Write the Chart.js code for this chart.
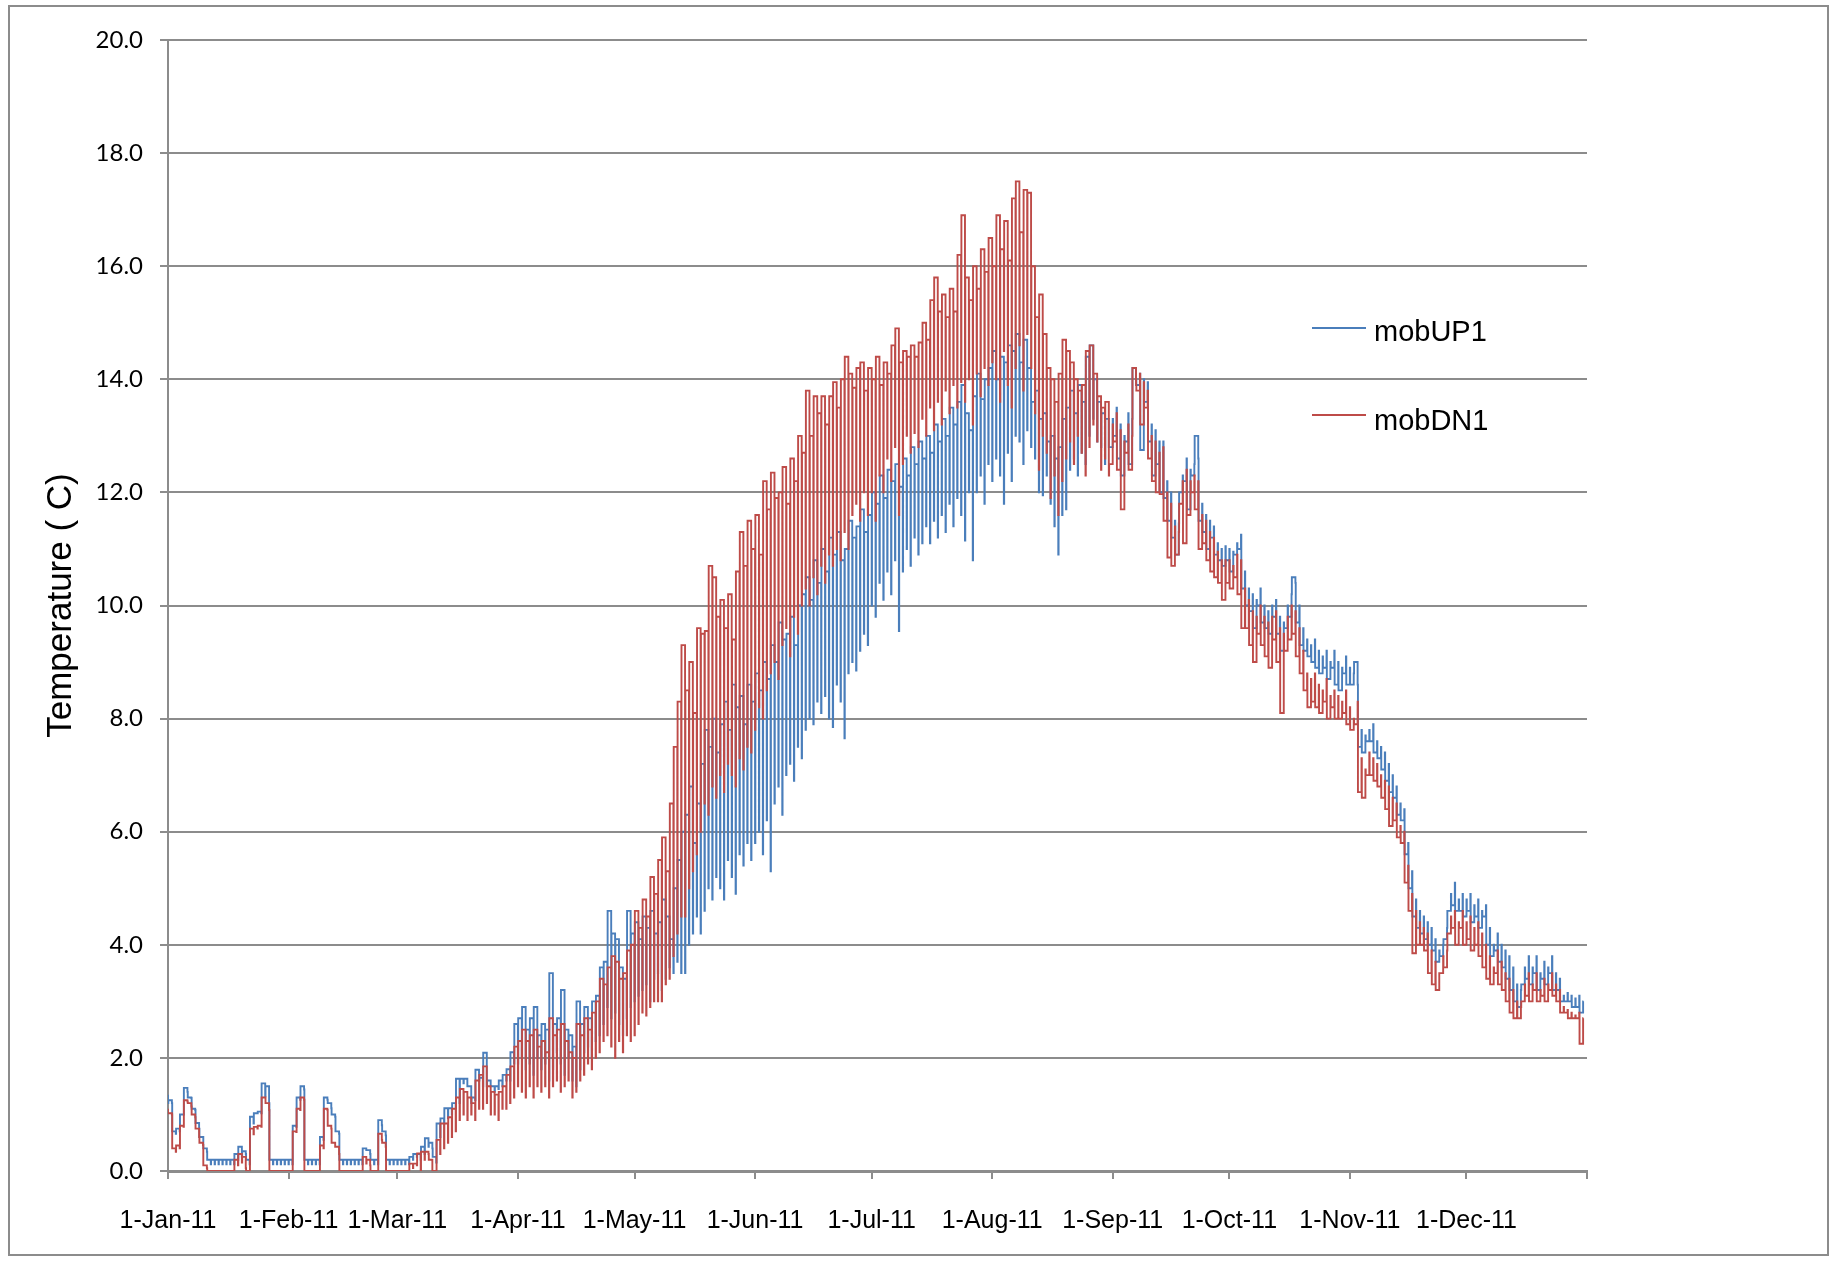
<!DOCTYPE html>
<html>
<head>
<meta charset="utf-8">
<script src="https://cdn.jsdelivr.net/npm/chart.js@4.4.1/dist/chart.umd.min.js"></script>
<style>
  body { margin: 0; background: #fff; }
  #wrap { position: relative; width: 1843px; height: 1262px; background: #fff; }
  #frame { position: absolute; left: 8px; top: 5px; width: 1821px; height: 1251px; border: 2px solid #8c8c8c; box-sizing: border-box; pointer-events: none; }
  .lgline { position: absolute; left: 1312px; width: 54px; height: 2px; }
  .lgtext { position: absolute; left: 1374px; font: 29px "Liberation Sans", Arial, sans-serif; line-height: 29px; color: #000; white-space: nowrap; }
</style>
</head>
<body>
<div id="wrap">
  <canvas id="mycanvas" width="1843" height="1262"></canvas>
  <div id="frame"></div>
  <div class="lgline" style="top:327px;background:#4a7ebb"></div>
  <div class="lgtext" style="top:317px">mobUP1</div>
  <div class="lgline" style="top:414px;background:#be4b48"></div>
  <div class="lgtext" style="top:406px">mobDN1</div>
</div>
<script>
// x axis: day of year 2011, ticks on the first of each month
var monthTicks = [0, 31, 59, 90, 120, 151, 181, 212, 243, 273, 304, 334, 365];
var monthLabels = ["1-Jan-11", "1-Feb-11", "1-Mar-11", "1-Apr-11", "1-May-11", "1-Jun-11",
                   "1-Jul-11", "1-Aug-11", "1-Sep-11", "1-Oct-11", "1-Nov-11", "1-Dec-11", ""];

// each day: a "base" level held most of the day and a short "peak" excursion
// mobUP1 (blue)
var upBase = [
  [1.2,1.2,0.66,0.7,1.0,1.4,1.29,1.08,0.75,0.6,0.34,0.12,0.12,0.12,0.12,0.12,0.12,0.12,0.2,0.25,0.3,0.12,0.84,1.02,1.02,1.32,1.2,0.12,0.12,0.12,0.12],
  [0.12,0.12,0.78,1.26,1.44,0.12,0.12,0.12,0.12,0.55,1.26,1.11,0.96,0.66,0.12,0.12,0.12,0.12,0.12,0.12,0.37,0.3,0.12,0.12,0.81,0.63,0.12,0.12],
  [0.12,0.12,0.12,0.12,0.2,0.25,0.2,0.3,0.43,0.4,0.15,0.6,0.84,0.93,1.0,1.11,1.2,1.55,1.5,1.2,1.25,1.6,1.5,1.5,1.5,1.4,1.45,1.5,1.6,1.6,1.9],
  [1.9,2.0,1.8,1.9,1.7,2.0,1.8,1.9,1.6,1.8,2.1,1.9,1.7,2.0,1.6,1.5,1.8,2.1,2.2,2.0,2.3,2.4,2.6,2.9,2.7,2.8,2.6,2.4,2.7,2.9],
  [3.0,3.1,3.2,3.3,3.0,3.4,3.5,3.2,3.4,3.6,3.5,3.7,3.5,3.5,4.0,4.2,4.5,4.2,4.6,5.0,4.8,5.2,5.0,4.8,5.5,5.2,4.9,5.6,5.4,5.8,5.5],
  [5.8,6.0,5.6,6.2,5.3,6.5,6.8,6.3,7.0,7.2,6.9,7.5,7.3,7.8,8.0,7.9,8.3,8.1,8.4,8.0,7.85,8.6,8.3,7.65,8.8,9.0,8.85,9.2,9.5,9.3],
  [10.0,9.8,10.4,10.1,10.6,10.2,10.8,9.55,10.6,11.0,10.7,11.2,10.9,11.1,11.4,11.1,11.5,11.2,11.6,11.3,11.8,11.4,11.9,11.6,11.15,12.0,10.8,12.0,12.3,11.8,12.5],
  [12.2,12.6,12.3,11.8,12.7,12.2,13.0,12.9,12.5,13.1,12.8,12.6,12.0,11.95,12.3,11.8,11.4,10.9,11.6,11.7,12.4,12.6,12.3,12.7,12.5,13.0,13.3,12.9,12.8,12.5,12.8],
  [13.3,13.5,13.2,13.0,13.4,13.3,14.0,14.1,14.0,13.95,13.2,13.1,12.9,12.9,12.2,12.0,11.5,11.45,12.3,12.6,12.4,12.5,12.6,11.8,11.6,11.5,11.4,11.1,11.0,11.05],
  [11.0,10.95,11.1,11.25,10.6,10.3,10.2,10.1,10.3,10.0,9.9,10.0,10.1,9.8,9.7,10.0,10.2,10.4,10.0,9.6,9.4,9.3,9.4,9.2,9.1,9.2,9.0,9.2,9.0,8.9,9.1],
  [8.9,8.8,8.6,7.8,7.7,7.8,7.9,7.6,7.5,7.4,7.2,7.0,6.8,6.5,6.4,5.8,5.3,4.8,4.6,4.5,4.4,4.3,4.1,3.9,4.0,4.3,4.9,5.1,4.8,4.9],
  [4.8,4.9,4.7,4.8,4.6,4.7,4.3,4.0,4.2,4.0,3.9,3.8,3.6,3.3,3.2,3.6,3.8,3.6,3.8,3.5,3.7,3.6,3.8,3.5,3.4,3.1,3.15,3.1,3.05,3.1,3.0]
].flat();
var upPeak = [
  [1.35,1.25,0.7,0.75,1.0,1.47,1.3,1.1,0.85,0.6,0.4,0.2,0.2,0.2,0.2,0.2,0.2,0.2,0.3,0.43,0.35,0.2,0.96,1.02,1.05,1.55,1.5,0.2,0.2,0.2,0.2],
  [0.2,0.2,0.8,1.3,1.5,0.2,0.2,0.2,0.2,0.6,1.3,1.2,1.0,0.7,0.2,0.2,0.2,0.2,0.2,0.2,0.4,0.37,0.2,0.2,0.9,0.7,0.2,0.2],
  [0.2,0.2,0.2,0.2,0.25,0.3,0.3,0.43,0.58,0.5,0.25,0.84,0.93,1.11,1.11,1.2,1.63,1.63,1.63,1.5,1.3,1.79,1.65,2.09,1.6,1.5,1.5,1.6,1.7,1.8,2.1],
  [2.6,2.7,2.9,2.5,2.7,2.9,2.4,2.6,2.5,3.5,2.6,2.7,3.2,2.5,2.4,2.2,3.0,2.6,2.9,2.7,3.0,3.1,3.6,3.7,4.6,4.2,4.1,3.6,3.4,4.6],
  [4.2,4.4,4.1,4.5,4.3,4.6,4.2,4.4,4.8,4.5,4.1,5.0,5.5,6.0,6.3,6.8,5.8,6.5,7.2,7.8,7.5,8.0,7.4,7.9,8.3,7.8,8.6,8.2,8.4,7.9,8.6],
  [8.3,8.8,8.5,9.0,8.7,9.3,9.0,9.7,9.4,9.5,9.8,9.3,10.0,10.2,10.5,10.1,10.8,10.4,11.0,10.6,11.2,10.9,11.3,10.8,11.0,11.5,11.2,11.4,11.7,11.3],
  [11.6,12.0,11.8,12.3,11.9,12.4,12.2,12.5,12.1,12.6,12.3,12.8,12.5,12.9,12.6,13.0,12.7,13.2,12.9,13.3,13.0,13.5,13.2,13.6,13.9,13.4,13.1,13.7,14.1,13.65,14.0],
  [14.2,14.5,14.0,14.4,14.3,14.6,14.5,14.8,14.3,14.7,14.2,13.6,13.8,13.3,13.4,12.9,13.0,12.6,12.8,13.3,13.5,13.8,13.4,13.9,13.6,14.4,14.6,14.0,13.6,13.4,13.3],
  [12.8,13.0,12.6,12.3,12.9,12.5,14.2,13.9,12.75,13.6,12.9,12.3,12.5,12.0,11.9,11.5,11.2,10.9,12.0,12.2,11.7,12.3,13.0,11.5,11.3,11.0,11.2,10.9,10.8,10.7],
  [10.8,10.6,10.9,11.0,10.3,10.0,9.9,9.6,10.0,9.7,9.6,9.5,9.8,9.5,9.2,9.6,9.8,10.5,9.7,9.3,9.2,9.1,9.0,8.9,8.8,8.9,8.7,8.9,8.6,8.5,8.8],
  [8.6,8.6,9.0,7.5,7.4,7.6,7.6,7.4,7.3,7.1,6.9,6.7,6.6,6.3,6.2,5.6,5.0,4.5,4.3,4.2,4.1,4.0,3.9,3.7,3.8,4.1,4.6,4.7,4.6,4.6],
  [4.5,4.6,4.4,4.5,4.3,4.5,4.0,3.8,3.9,3.7,3.6,3.4,3.2,3.0,2.9,3.3,3.4,3.3,3.5,3.2,3.4,3.3,3.5,3.2,3.2,3.0,3.0,3.0,2.9,2.9,2.8]
].flat();

// mobDN1 (red)
var dnBase = [
  [1.02,1.0,0.34,0.4,0.78,1.23,1.14,0.95,0.6,0.46,0.05,0,0,0,0,0,0,0,0.1,0.15,0.05,0,0.65,0.75,0.78,1.3,1.08,0,0,0,0],
  [0,0,0.69,1.08,1.26,0,0,0,0,0.4,1.08,0.75,0.43,0.3,0,0,0,0,0,0,0.13,0.1,0,0,0.55,0.43,0,0],
  [0,0,0,0,0.05,0.1,0,0.2,0.3,0,0,0.3,0.4,0.5,0.6,0.7,0.9,1.0,0.9,1.0,0.9,1.1,1.1,1.2,1.0,1.0,0.9,1.1,1.1,1.2,1.3],
  [1.5,1.4,1.3,1.5,1.3,1.5,1.4,1.5,1.3,1.5,1.6,1.4,1.5,1.6,1.3,1.4,1.6,1.7,1.9,1.8,2.0,2.1,2.3,2.4,2.2,2.0,2.3,2.1,2.4,2.3],
  [2.4,2.6,2.8,2.75,2.9,3.0,3.0,3.0,3.3,3.4,3.8,4.2,4.5,4.5,5.0,5.3,5.6,6.0,6.5,6.3,6.8,6.6,7.0,6.7,7.2,7.0,6.8,7.3,7.1,7.5,7.4],
  [7.8,8.2,8.0,8.5,8.8,9.0,8.7,9.3,9.6,9.1,9.8,9.5,10.0,10.3,10.0,10.5,10.2,10.7,10.4,10.9,10.7,11.0,10.8,11.3,11.0,11.6,11.8,11.5,12.0,11.6],
  [12.0,11.5,12.3,12.0,12.6,12.2,12.8,11.6,12.5,13.0,12.7,13.05,12.8,13.3,13.0,13.5,13.1,13.6,13.2,13.8,13.4,13.9,13.5,13.95,13.6,14.0,13.2,14.1,13.7,14.2,13.9],
  [14.3,14.0,13.6,14.5,13.9,13.5,14.2,14.6,13.8,14.8,14.2,13.4,12.4,13.0,12.7,11.9,12.3,11.6,12.2,12.6,12.9,12.5,13.0,12.7,12.3,12.8,13.2,12.9,12.4,12.6,12.3],
  [13.2,13.4,13.1,12.9,13.2,13.0,13.9,14.1,13.95,13.8,13.0,12.9,12.7,12.8,12.0,11.8,11.4,11.3,12.2,12.4,12.2,12.3,12.2,11.6,11.5,11.3,11.2,10.95,10.8,10.8],
  [10.8,10.7,10.9,10.8,10.3,10.1,9.9,9.8,10.0,9.8,9.7,9.8,9.9,9.6,9.5,9.8,10.0,9.9,9.6,9.2,8.8,8.7,8.8,8.6,8.5,8.7,8.4,8.5,8.4,8.3,8.5],
  [8.2,8.0,8.3,7.3,7.1,7.4,7.3,7.2,7.0,6.9,6.8,6.6,6.5,6.1,6.0,5.4,4.9,4.6,4.4,4.3,4.2,3.9,3.7,3.5,3.8,3.9,4.5,4.6,4.4,4.6],
  [4.4,4.5,4.3,4.4,4.2,4.0,3.8,3.6,3.9,3.7,3.5,3.4,3.2,3.0,2.9,3.3,3.5,3.3,3.5,3.2,3.4,3.3,3.5,3.3,3.2,2.9,2.85,2.8,2.75,2.8,2.7]
].flat();
var dnPeak = [
  [1.1,1.02,0.4,0.45,0.8,1.25,1.2,1.0,0.75,0.5,0.1,0,0,0,0,0,0,0,0.2,0.3,0.25,0,0.75,0.78,0.8,1.3,1.2,0,0,0,0],
  [0,0,0.7,1.1,1.3,0,0,0,0,0.45,1.1,0.8,0.5,0.43,0,0,0,0,0,0,0.25,0.2,0,0,0.66,0.5,0,0],
  [0,0,0,0,0.13,0.13,0.31,0.34,0.34,0.2,0,0.55,0.84,0.84,0.95,1.1,1.3,1.45,1.4,1.3,1.2,1.6,1.7,1.85,1.5,1.4,1.35,1.4,1.5,1.7,1.85],
  [2.2,2.3,2.5,2.3,2.4,2.5,2.2,2.3,2.1,2.7,2.4,2.5,2.6,2.3,2.1,2.0,2.6,2.4,2.7,2.5,2.8,3.0,3.4,3.3,3.6,3.8,3.7,3.4,3.5,3.9],
  [4.0,4.6,4.3,4.8,4.5,5.2,4.9,5.5,5.9,5.3,6.5,7.5,8.3,9.3,8.5,9.0,8.1,9.6,9.5,9.55,10.7,10.5,9.8,10.1,9.6,10.2,9.4,10.6,11.3,10.7,11.5],
  [11.0,11.6,10.9,12.2,11.7,12.35,11.9,12.0,12.45,11.8,12.6,12.2,13.0,12.7,13.8,13.0,13.7,13.4,13.7,13.2,13.7,13.95,13.5,14.0,14.4,14.1,13.85,14.2,14.3,13.8],
  [14.2,14.0,14.4,13.9,14.3,14.1,14.6,14.9,14.3,14.5,14.4,14.6,14.4,14.65,15.0,14.7,15.4,15.8,15.2,15.5,15.1,15.6,15.2,16.2,16.9,15.8,15.4,16.0,15.6,16.3,15.9],
  [16.5,16.0,16.9,16.3,16.8,16.1,17.2,17.5,16.6,17.35,17.3,16.0,15.1,15.5,14.8,14.2,14.0,13.6,14.1,14.7,14.5,14.3,14.0,13.8,13.9,14.5,14.6,14.1,13.7,13.5,13.6],
  [12.5,12.9,12.4,11.7,12.7,12.4,14.2,13.8,13.2,13.5,12.6,12.2,12.0,11.97,11.5,10.85,10.7,10.9,11.8,11.1,11.6,12.0,11.7,11.0,11.1,10.8,10.6,10.5,10.4,10.1],
  [10.4,10.3,10.5,10.2,9.6,9.6,9.3,9.0,9.5,9.3,9.1,8.9,9.4,9.0,8.1,9.2,9.4,9.5,9.1,8.8,8.5,8.2,8.3,8.2,8.1,8.3,8.0,8.2,8.0,8.0,8.1],
  [7.9,7.8,7.9,6.7,6.6,7.0,7.0,6.9,6.8,6.6,6.4,6.1,6.2,5.9,5.8,5.1,4.6,3.85,4.0,4.0,3.9,3.5,3.3,3.2,3.5,3.6,4.2,4.3,4.0,4.3],
  [4.0,4.1,3.9,4.0,3.8,3.6,3.4,3.3,3.5,3.3,3.2,3.0,2.8,2.7,2.7,3.0,3.1,3.0,3.2,3.0,3.1,3.0,3.2,3.1,3.0,2.8,2.8,2.7,2.7,2.7,2.25]
].flat();

// the day opens with its brief peak, then holds at the base level for the rest of the day
function dayPoints(base, peak) {
  var pts = [];
  for (var d = 0; d < base.length; d++) {
    pts.push({x: d, y: peak[d]});
    pts.push({x: d + 0.08, y: base[d]});
  }
  return pts;
}

var gridGrey = "#8c8c8c";
var ctx = document.getElementById("mycanvas");

var LineGraph = new Chart(ctx, {
  type: "line",
  data: {
    datasets: [
      {
        label: "mobUP1",
        data: dayPoints(upBase, upPeak),
        borderColor: "#4a7ebb",
        borderWidth: 1.9,
        pointRadius: 0,
        stepped: "after",
        fill: false,
        order: 2
      },
      {
        label: "mobDN1",
        data: dayPoints(dnBase, dnPeak),
        borderColor: "#be4b48",
        borderWidth: 1.9,
        pointRadius: 0,
        stepped: "after",
        fill: false,
        order: 1
      }
    ]
  },
  options: {
    responsive: false,
    animation: false,
    layout: { padding: { left: 0, right: 256, top: 40, bottom: 0 } },
    plugins: { legend: { display: false }, tooltip: { enabled: false } },
    scales: {
      x: {
        type: "linear",
        min: 0,
        max: 365,
        afterBuildTicks: function(axis) {
          axis.ticks = monthTicks.map(function(v) { return {value: v}; });
        },
        afterFit: function(scale) { scale.height = 91; },
        ticks: {
          autoSkip: false,
          maxRotation: 0,
          padding: 27,
          color: "#000",
          font: { family: "Liberation Sans", size: 25 },
          callback: function(v, i) { return monthLabels[i]; }
        },
        grid: { drawOnChartArea: false, tickLength: 8, color: gridGrey, lineWidth: 2 },
        border: { color: gridGrey, width: 3 }
      },
      y: {
        min: 0,
        max: 20,
        afterFit: function(scale) { scale.width = 168; },
        ticks: {
          stepSize: 2,
          padding: 17,
          color: "#000",
          font: { family: "Lato", size: 24 },
          callback: function(v) { return v.toFixed(1); }
        },
        grid: { color: gridGrey, lineWidth: 2, tickLength: 8 },
        border: { color: gridGrey, width: 2 },
        title: {
          display: true,
          text: "Temperature ( C)",
          color: "#000",
          font: { family: "Liberation Sans", size: 35 },
          padding: { top: 40, bottom: 0 }
        }
      }
    }
  }
});
</script>
</body>
</html>
